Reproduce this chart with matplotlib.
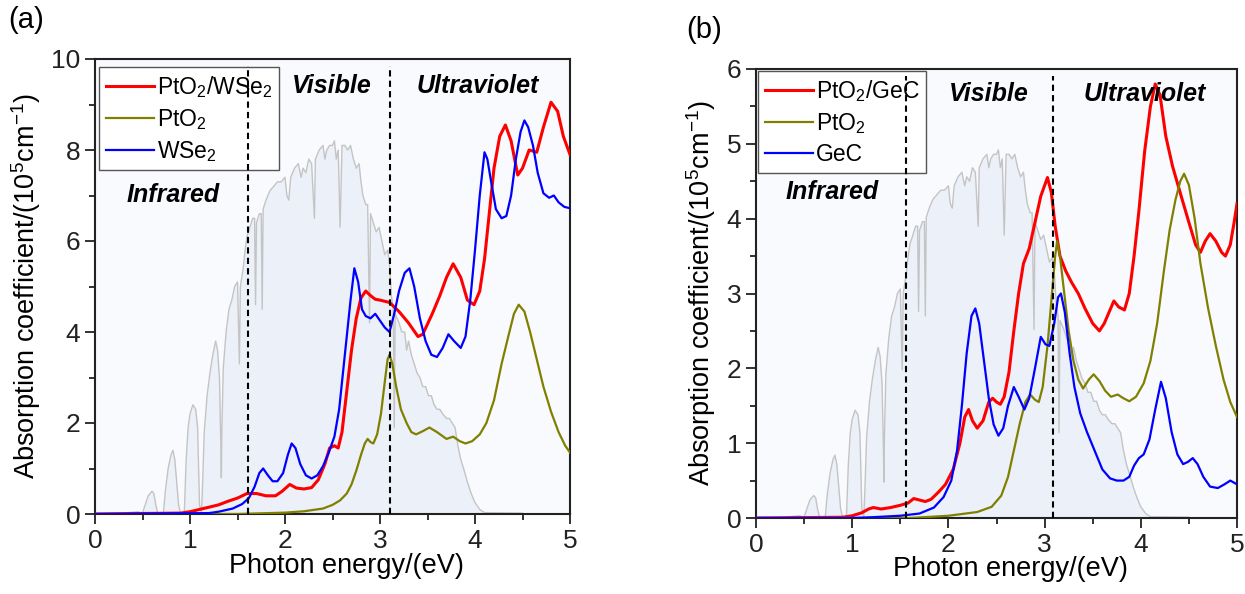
import matplotlib
matplotlib.use("Agg")
import matplotlib.pyplot as plt
from matplotlib.ticker import MultipleLocator

plt.rcParams['font.family'] = ['Liberation Sans', 'DejaVu Sans']
plt.rcParams['mathtext.fontset'] = 'custom'
plt.rcParams['mathtext.rm'] = 'Liberation Sans'
plt.rcParams['mathtext.it'] = 'Liberation Sans:italic'
plt.rcParams['mathtext.bf'] = 'Liberation Sans:bold'

# ---------------- solar spectrum (in panel (a) units) ----------------
spec_x = [0.30, 0.35, 0.45, 0.50, 0.52, 0.56, 0.60, 0.62, 0.64, 0.66, 0.72, 0.74, 0.77, 0.80, 0.82,
          0.84, 0.86, 0.88, 0.90, 0.94, 0.96, 0.98, 1.00, 1.03, 1.06, 1.08, 1.09, 1.10, 1.12, 1.13,
          1.15, 1.18, 1.21, 1.24, 1.27, 1.29, 1.31, 1.325, 1.33, 1.335, 1.35, 1.38, 1.41, 1.44, 1.47,
          1.50, 1.52, 1.53, 1.56, 1.58, 1.60, 1.63, 1.66, 1.68, 1.69, 1.70, 1.73, 1.75, 1.76, 1.77,
          1.80, 1.84, 1.88, 1.92, 1.96, 2.00, 2.02, 2.04, 2.06, 2.10, 2.14, 2.17, 2.19, 2.22, 2.25,
          2.28, 2.31, 2.32, 2.36, 2.40, 2.42, 2.44, 2.47, 2.50, 2.52, 2.54, 2.56, 2.58, 2.60, 2.63,
          2.66, 2.69, 2.72, 2.75, 2.78, 2.80, 2.82, 2.85, 2.87, 2.89, 2.90, 2.93, 2.96, 2.99, 3.02,
          3.05, 3.08, 3.10, 3.12, 3.14, 3.15, 3.16, 3.20, 3.23, 3.26, 3.28, 3.30, 3.33, 3.36, 3.39,
          3.42, 3.45, 3.48, 3.51, 3.54, 3.57, 3.60, 3.63, 3.66, 3.70, 3.73, 3.76, 3.79, 3.82, 3.85,
          3.88, 3.92, 3.96, 4.00, 4.05, 4.10, 4.50]
spec_y = [0.00, 0.03, 0.05, 0.02, 0.15, 0.40, 0.50, 0.45, 0.20, 0.02, 0.02, 0.50, 1.00, 1.30, 1.40,
          1.20, 0.70, 0.20, 0.02, 0.02, 1.20, 1.90, 2.20, 2.40, 2.30, 1.90, 1.00, 0.20, 0.02, 0.50,
          1.80, 2.60, 3.10, 3.50, 3.80, 3.60, 3.00, 1.50, 0.80, 1.80, 3.20, 4.00, 4.50, 4.70, 5.00,
          5.10, 3.30, 5.00, 5.40, 5.80, 6.10, 6.30, 6.50, 6.50, 4.60, 6.40, 6.60, 6.60, 4.50, 6.70,
          6.90, 7.10, 7.20, 7.30, 7.30, 7.40, 7.00, 6.90, 7.40, 7.60, 7.70, 7.40, 7.60, 7.50, 7.80,
          7.70, 6.50, 7.80, 8.00, 8.10, 7.80, 8.00, 8.10, 8.10, 8.20, 7.80, 8.00, 6.30, 8.10, 8.10,
          8.00, 8.10, 7.80, 7.60, 7.70, 7.30, 7.00, 6.80, 6.80, 4.20, 6.60, 6.40, 6.20, 6.30, 6.00,
          5.70, 5.80, 5.50, 4.80, 4.50, 1.90, 4.40, 4.20, 4.00, 4.00, 3.60, 3.80, 3.50, 3.30, 3.10,
          3.00, 2.80, 2.80, 2.60, 2.60, 2.40, 2.30, 2.30, 2.20, 2.10, 2.10, 2.00, 1.90, 1.50, 1.20,
          1.00, 0.70, 0.45, 0.25, 0.10, 0.03, 0.02]
spec_scale_b = 0.6

# ---------------- panel (a) ----------------
a_het_x = [0.0, 0.9, 1.0, 1.1, 1.2, 1.3, 1.4, 1.5, 1.6, 1.7, 1.8, 1.9, 1.97, 2.05, 2.12, 2.2,
           2.28, 2.35, 2.42, 2.47, 2.52, 2.56, 2.6, 2.65, 2.7, 2.75, 2.8, 2.85, 2.9, 2.95, 3.0,
           3.1, 3.2, 3.3, 3.4, 3.45, 3.55, 3.63, 3.7, 3.77, 3.85, 3.92, 3.99, 4.05, 4.1, 4.15,
           4.2, 4.26, 4.32, 4.38, 4.45, 4.5, 4.57, 4.65, 4.72, 4.8, 4.87, 4.93, 5.0]
a_het_y = [0.0, 0.02, 0.05, 0.1, 0.15, 0.2, 0.28, 0.35, 0.45, 0.45, 0.4, 0.4, 0.5, 0.65, 0.57, 0.55,
           0.58, 0.75, 1.1, 1.45, 1.5, 1.45, 1.8, 2.7, 3.6, 4.3, 4.75, 4.9, 4.8, 4.72, 4.7,
           4.65, 4.45, 4.2, 3.9, 3.95, 4.4, 4.8, 5.2, 5.5, 5.2, 4.7, 4.6, 4.9, 5.6, 6.6,
           7.6, 8.3, 8.55, 8.2, 7.45, 7.6, 8.0, 7.95, 8.5, 9.05, 8.85, 8.3, 7.9]

a_pto2_x = [0.0, 1.5, 2.0, 2.2, 2.4, 2.5, 2.58, 2.65, 2.7, 2.75, 2.8, 2.84, 2.87, 2.9, 2.93, 2.97,
            3.01, 3.05, 3.08, 3.1, 3.13, 3.17, 3.22, 3.28, 3.33, 3.38, 3.45, 3.52, 3.6, 3.7,
            3.77, 3.84, 3.9, 3.97, 4.05, 4.12, 4.2, 4.28, 4.35, 4.41, 4.46, 4.52, 4.58, 4.65,
            4.72, 4.8, 4.88, 4.95, 5.0]
a_pto2_y = [0.0, 0.0, 0.03, 0.06, 0.12, 0.2, 0.3, 0.45, 0.65, 0.95, 1.3, 1.55, 1.65, 1.58, 1.55, 1.75,
            2.2, 2.9, 3.4, 3.5, 3.3, 2.8, 2.3, 2.0, 1.8, 1.75, 1.82, 1.9, 1.8, 1.65,
            1.7, 1.6, 1.55, 1.6, 1.75, 2.0, 2.5, 3.3, 3.9, 4.4, 4.6, 4.45, 4.0, 3.4,
            2.8, 2.25, 1.8, 1.5, 1.35]

a_wse2_x = [0.0, 1.2, 1.3, 1.45, 1.55, 1.62, 1.68, 1.73, 1.77, 1.82, 1.87, 1.92, 1.98, 2.03, 2.07,
            2.11, 2.16, 2.22, 2.28, 2.34, 2.4, 2.46, 2.52, 2.57, 2.61, 2.65, 2.69, 2.73, 2.77, 2.81,
            2.85, 2.9, 2.95, 3.0, 3.05, 3.1, 3.15, 3.2, 3.26, 3.31, 3.36, 3.42, 3.48, 3.54, 3.6,
            3.66, 3.72, 3.78, 3.85, 3.9, 3.95, 4.0, 4.05, 4.1, 4.13, 4.17, 4.22, 4.28, 4.33, 4.38,
            4.43, 4.48, 4.52, 4.56, 4.61, 4.66, 4.72, 4.78, 4.83, 4.88, 4.94, 5.0]
a_wse2_y = [0.0, 0.02, 0.05, 0.12, 0.22, 0.35, 0.6, 0.9, 1.0, 0.85, 0.72, 0.72, 0.9, 1.3, 1.55,
            1.45, 1.1, 0.85, 0.78, 0.85, 1.05, 1.35, 1.7, 2.3, 3.1, 3.9, 4.7, 5.4, 5.1, 4.5,
            4.35, 4.3, 4.4, 4.25, 4.1, 4.0, 4.4, 4.9, 5.3, 5.4, 5.0, 4.3, 3.8, 3.5, 3.45,
            3.65, 3.95, 3.8, 3.65, 3.9, 4.7, 5.8, 7.0, 7.95, 7.8, 7.3, 6.7, 6.5, 6.55, 7.0,
            7.8, 8.4, 8.65, 8.5, 8.1, 7.5, 7.05, 6.95, 7.0, 6.85, 6.75, 6.72]

# ---------------- panel (b) ----------------
b_het_x = [0.0, 0.9, 1.0, 1.1, 1.17, 1.22, 1.3, 1.4, 1.5, 1.58, 1.64, 1.7, 1.76, 1.82, 1.9, 1.97,
           2.05, 2.12, 2.17, 2.21, 2.25, 2.3, 2.36, 2.42, 2.46, 2.5, 2.54, 2.58, 2.63, 2.68, 2.73,
           2.78, 2.84, 2.9, 2.96, 3.03, 3.07, 3.11, 3.16, 3.22, 3.28, 3.35, 3.42, 3.5, 3.57, 3.62,
           3.67, 3.72, 3.77, 3.83, 3.88, 3.93, 3.98, 4.04, 4.1, 4.15, 4.2, 4.26, 4.33, 4.42, 4.5,
           4.57, 4.62, 4.67, 4.72, 4.78, 4.84, 4.88, 4.93, 4.97, 5.0]
b_het_y = [0.0, 0.01, 0.03, 0.07, 0.12, 0.14, 0.12, 0.14, 0.17, 0.2, 0.26, 0.24, 0.22, 0.25, 0.35, 0.45,
           0.65, 1.0, 1.35, 1.45, 1.3, 1.2, 1.3, 1.55, 1.6, 1.55, 1.52, 1.62, 1.95, 2.5, 3.0,
           3.4, 3.6, 3.95, 4.3, 4.55, 4.35, 3.9, 3.5, 3.3, 3.15, 3.0, 2.8, 2.6, 2.5, 2.6,
           2.75, 2.9, 2.82, 2.78, 3.0, 3.5, 4.1, 4.9, 5.5, 5.8, 5.65, 5.1, 4.7, 4.3, 3.95,
           3.65, 3.55, 3.7, 3.8, 3.7, 3.55, 3.5, 3.65, 3.95, 4.2]

b_pto2_x = [0.0, 1.6, 2.0, 2.3, 2.45, 2.55, 2.62, 2.68, 2.74, 2.8, 2.85, 2.9, 2.94, 2.98, 3.03,
            3.08, 3.11, 3.13, 3.16, 3.2, 3.25, 3.3, 3.35, 3.4, 3.46, 3.51, 3.57, 3.63, 3.69, 3.76,
            3.82, 3.88, 3.95, 4.03, 4.1, 4.17, 4.24, 4.3, 4.36, 4.41, 4.45, 4.5, 4.56, 4.62, 4.7,
            4.78, 4.86, 4.93, 5.0]
b_pto2_y = [0.0, 0.0, 0.03, 0.08, 0.15, 0.3, 0.55, 0.9, 1.25, 1.55, 1.65, 1.58, 1.55, 1.75, 2.3,
            3.05, 3.5, 3.7, 3.5, 3.05, 2.5, 2.1, 1.85, 1.73, 1.85, 1.92, 1.83, 1.7, 1.62, 1.65,
            1.6, 1.56, 1.62, 1.8, 2.1, 2.6, 3.3, 3.85, 4.25, 4.5, 4.6, 4.45, 4.0, 3.4, 2.8,
            2.3, 1.85, 1.55, 1.35]

b_gec_x = [0.0, 1.0, 1.2, 1.5, 1.7, 1.85, 1.95, 2.03, 2.09, 2.14, 2.19, 2.24, 2.28, 2.32, 2.37,
           2.42, 2.47, 2.52, 2.57, 2.62, 2.68, 2.73, 2.79, 2.84, 2.9, 2.96, 3.01, 3.05, 3.1, 3.14,
           3.17, 3.21, 3.26, 3.31, 3.37, 3.44, 3.52, 3.6, 3.68, 3.75, 3.82, 3.88, 3.93, 3.98, 4.03,
           4.09, 4.15, 4.21, 4.26, 4.32, 4.38, 4.44, 4.49, 4.54, 4.59, 4.65, 4.72, 4.8, 4.87, 4.93,
           5.0]
b_gec_y = [0.0, 0.0, 0.01, 0.03, 0.06, 0.14, 0.28, 0.5, 0.9, 1.5, 2.2, 2.7, 2.8, 2.6, 2.1,
           1.6, 1.25, 1.1, 1.2, 1.5, 1.75, 1.62, 1.45, 1.6, 2.0, 2.42, 2.32, 2.3, 2.6, 2.95,
           3.0, 2.75, 2.2, 1.75, 1.4, 1.15, 0.9, 0.65, 0.53, 0.5, 0.5, 0.55, 0.7, 0.8, 0.85,
           1.05, 1.45, 1.82, 1.6, 1.15, 0.85, 0.72, 0.75, 0.8, 0.72, 0.55, 0.42, 0.4, 0.45, 0.5,
           0.45]

legend_a = ["PtO$_\\mathregular{2}$/WSe$_\\mathregular{2}$", "PtO$_\\mathregular{2}$", "WSe$_\\mathregular{2}$"]
legend_b = ["PtO$_\\mathregular{2}$/GeC", "PtO$_\\mathregular{2}$", "GeC"]
region_labels = ["Infrared", "Visible", "Ultraviolet"]

RED, OLIVE, BLUE = "#ff0000", "#808000", "#0000ff"
BG = "#f8fafd"

fig = plt.figure(figsize=(12.45, 5.94), dpi=100, facecolor="white")
axA = fig.add_axes([95/1245, 1-514/594, 475/1245, 455/594])
axB = fig.add_axes([756/1245, 1-518/594, 481/1245, 449/594])


def style(ax, ymax, ymajor):
    ax.set_facecolor(BG)
    ax.set_xlim(0, 5)
    ax.set_ylim(0, ymax)
    ax.xaxis.set_major_locator(MultipleLocator(1))
    ax.xaxis.set_minor_locator(MultipleLocator(0.5))
    ax.yaxis.set_major_locator(MultipleLocator(ymajor))
    ax.yaxis.set_minor_locator(MultipleLocator(ymajor/2))
    ax.tick_params(which='both', direction='out', top=False, right=False, labelsize=19, width=1.3,
                   colors='#222222')
    ax.tick_params(which='major', length=7)
    ax.tick_params(which='minor', length=4)
    for s in ax.spines.values():
        s.set_linewidth(1.5)
        s.set_color('#222222')
    ax.set_xlabel("Photon energy/(eV)", fontsize=19.5, labelpad=1)
    ax.xaxis.set_label_coords(0.53, -0.085)
    ax.set_ylabel("Absorption coefficient/(10$^\\mathregular{5}$cm$^\\mathregular{-1}$)", fontsize=19.5,
                  labelpad=6)


def panel(ax, scale, curves, labels, vlines, ytop, txt_pos, leg_anchor):
    sy = [v*scale for v in spec_y]
    ax.fill_between(spec_x, 0, sy, color="#ebf0f9", lw=0, zorder=1)
    ax.plot(spec_x, sy, color="#c4c4c4", lw=1.0, zorder=2)
    handles = []
    for (x, y, c, lw), lab in zip(curves, labels):
        h, = ax.plot(x, y, color=c, lw=lw, label=lab, zorder=4)
        handles.append(h)
    for v in vlines:
        ax.plot([v, v], [0, ytop], color='black', ls=(0, (3, 2)), lw=1.5, zorder=7)
    for t, (tx, ty) in zip(region_labels, txt_pos):
        ax.text(tx, ty, t, fontsize=18, fontweight='bold', fontstyle='italic', ha='center', va='center',
                zorder=8)
    leg = ax.legend(handles=handles, loc='upper left', bbox_to_anchor=leg_anchor, borderaxespad=0,
                    fontsize=16.5, handlelength=2.1, handletextpad=0.12, labelspacing=0.3, borderpad=0.3,
                    fancybox=False, framealpha=1, edgecolor='#555555', facecolor='white')
    leg.get_frame().set_linewidth(1.0)
    leg.set_zorder(5)


style(axA, 10, 2)
panel(axA, 1.0,
      [(a_het_x, a_het_y, RED, 2.2), (a_pto2_x, a_pto2_y, OLIVE, 1.6), (a_wse2_x, a_wse2_y, BLUE, 1.6)],
      legend_a, [1.61, 3.1], 9.85, [(0.82, 7.0), (2.49, 9.4), (4.03, 9.4)], (0.008, 0.982))

style(axB, 6, 1)
panel(axB, spec_scale_b,
      [(b_het_x, b_het_y, RED, 2.2), (b_pto2_x, b_pto2_y, OLIVE, 1.6), (b_gec_x, b_gec_y, BLUE, 1.6)],
      legend_b, [1.56, 3.09], 5.9, [(0.79, 4.36), (2.42, 5.67), (4.04, 5.67)], (0.004, 0.995))

fig.text(8/1245, 1-20/594, "(a)", fontsize=21, ha='left', va='center')
fig.text(686/1245, 1-30/594, "(b)", fontsize=21, ha='left', va='center')

fig.savefig("out.png", dpi=100, facecolor=fig.get_facecolor())
